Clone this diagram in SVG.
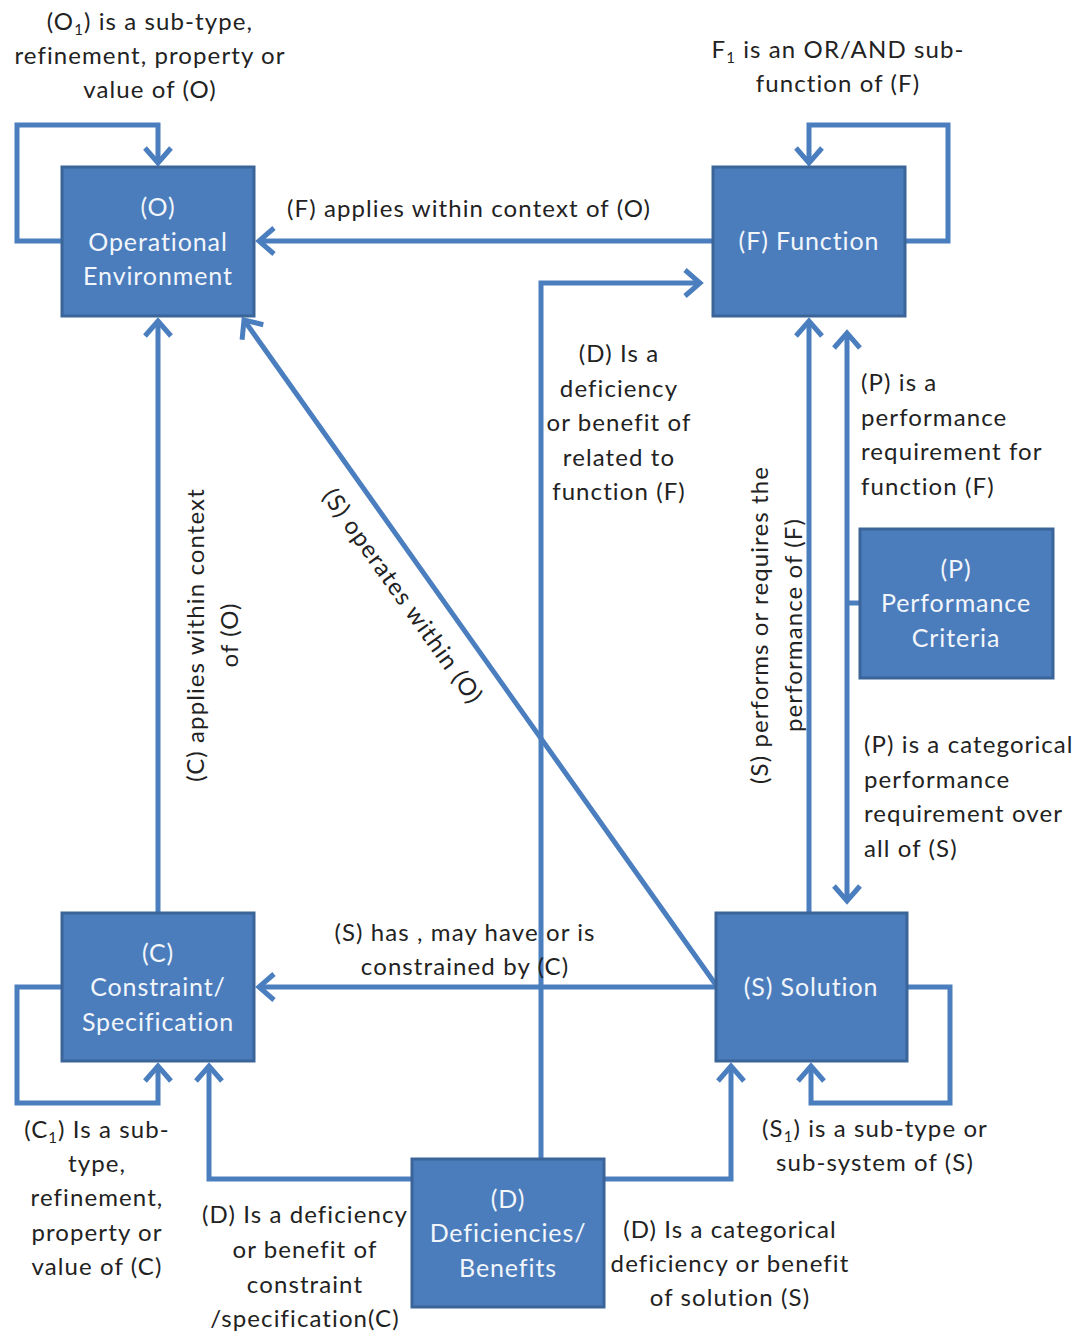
<svg xmlns="http://www.w3.org/2000/svg" width="1080" height="1335" viewBox="0 0 1080 1335">
<style>
.box{fill:#4b7dbd;stroke:#3b6598;stroke-width:3}
.bt{font-family:Lato,"Open Sans",sans-serif;font-size:25px;letter-spacing:0.9px;fill:#f2f6fb;text-anchor:middle}
.t{font-family:Lato,"Open Sans",sans-serif;font-size:24px;letter-spacing:1.1px;fill:#222}
.c{text-anchor:middle}
.ln{fill:none;stroke:#4a7ebe;stroke-width:5}
</style>
<defs>
<marker id="ar" viewBox="-20 -16 24 32" refX="0" refY="0" markerWidth="24" markerHeight="32" markerUnits="userSpaceOnUse" orient="auto-start-reverse">
<path d="M -15 -13 L 0 0 L -15 13" fill="none" stroke="#4a7ebe" stroke-width="5" stroke-linejoin="miter"/>
</marker>
</defs>
<rect width="1080" height="1335" fill="#ffffff"/>
<g id="connectors">
<path class="ln" d="M62 241 H17 V125 H158 V163" marker-end="url(#ar)"/>
<path class="ln" d="M905 241 H948 V125 H809 V163" marker-end="url(#ar)"/>
<path class="ln" d="M713 241 H259" marker-end="url(#ar)"/>
<path class="ln" d="M158 913 V321" marker-end="url(#ar)"/>
<path class="ln" d="M716 985 L244 320" marker-end="url(#ar)"/>
<path class="ln" d="M541 1159 V283 H700" marker-end="url(#ar)"/>
<path class="ln" d="M809 913 V321" marker-end="url(#ar)"/>
<path class="ln" d="M847 333 V901" marker-start="url(#ar)" marker-end="url(#ar)"/>
<path class="ln" d="M847 603 H860"/>
<path class="ln" d="M716 987 H259" marker-end="url(#ar)"/>
<path class="ln" d="M62 987 H17 V1103 H158 V1066" marker-end="url(#ar)"/>
<path class="ln" d="M907 987 H950 V1103 H811 V1066" marker-end="url(#ar)"/>
<path class="ln" d="M412 1179 H209 V1066" marker-end="url(#ar)"/>
<path class="ln" d="M604 1179 H731 V1066" marker-end="url(#ar)"/>
</g>
<g id="node-O">
<rect class="box" x="62" y="167" width="192" height="149"/>
<text class="bt" x="158" y="216">(O)</text>
<text class="bt" x="158" y="251">Operational</text>
<text class="bt" x="158" y="285">Environment</text>
</g>
<g id="node-F">
<rect class="box" x="713" y="167" width="192" height="149"/>
<text class="bt" x="809" y="250">(F) Function</text>
</g>
<g id="node-P">
<rect class="box" x="860" y="529" width="193" height="149"/>
<text class="bt" x="956" y="578">(P)</text>
<text class="bt" x="956" y="612">Performance</text>
<text class="bt" x="956" y="647">Criteria</text>
</g>
<g id="node-C">
<rect class="box" x="62" y="913" width="192" height="148"/>
<text class="bt" x="158" y="962">(C)</text>
<text class="bt" x="158" y="996">Constraint/</text>
<text class="bt" x="158" y="1031">Specification</text>
</g>
<g id="node-S">
<rect class="box" x="716" y="913" width="191" height="148"/>
<text class="bt" x="811" y="996">(S) Solution</text>
</g>
<g id="node-D">
<rect class="box" x="412" y="1159" width="192" height="148"/>
<text class="bt" x="508" y="1208">(D)</text>
<text class="bt" x="508" y="1242">Deficiencies/</text>
<text class="bt" x="508" y="1277">Benefits</text>
</g>
<g id="labels">
<text class="t c" x="150" y="30">(O<tspan font-size="15" dy="5">1</tspan><tspan dy="-5">) is a sub-type,</tspan></text>
<text class="t c" x="150" y="64">refinement, property or</text>
<text class="t c" x="150" y="98">value of (O)</text>
<text class="t c" x="838" y="58">F<tspan font-size="15" dy="5">1</tspan><tspan dy="-5">  is an OR/AND sub-</tspan></text>
<text class="t c" x="838" y="92">function of (F)</text>
<text class="t c" x="469" y="217">(F) applies within context of (O)</text>
<text class="t c" x="619" y="362">(D) Is a</text>
<text class="t c" x="619" y="397">deficiency</text>
<text class="t c" x="619" y="431">or benefit of</text>
<text class="t c" x="619" y="466">related to</text>
<text class="t c" x="619" y="500">function (F)</text>
<text class="t" x="861" y="391">(P) is a</text>
<text class="t" x="861" y="426">performance</text>
<text class="t" x="861" y="460">requirement for</text>
<text class="t" x="861" y="495">function (F)</text>
<text class="t" x="864" y="753">(P) is a categorical</text>
<text class="t" x="864" y="788">performance</text>
<text class="t" x="864" y="822">requirement over</text>
<text class="t" x="864" y="857">all of (S)</text>
<text class="t c" transform="translate(204,635) rotate(-90)">(C) applies within context</text>
<text class="t c" transform="translate(238,635) rotate(-90)">of (O)</text>
<text class="t c" transform="translate(396,601) rotate(54.6)">(S) operates within (O)</text>
<text class="t c" transform="translate(768,625) rotate(-90)">(S) performs or requires the</text>
<text class="t c" transform="translate(802,625) rotate(-90)">performance of (F)</text>
<text class="t c" x="465" y="941">(S) has , may have or is</text>
<text class="t c" x="465" y="975">constrained by (C)</text>
<text class="t c" x="97" y="1138">(C<tspan font-size="15" dy="5">1</tspan><tspan dy="-5">) Is a sub-</tspan></text>
<text class="t c" x="97" y="1172">type,</text>
<text class="t c" x="97" y="1206">refinement,</text>
<text class="t c" x="97" y="1241">property or</text>
<text class="t c" x="97" y="1275">value of (C)</text>
<text class="t c" x="875" y="1137">(S<tspan font-size="15" dy="5">1</tspan><tspan dy="-5">) is a sub-type or</tspan></text>
<text class="t c" x="875" y="1171">sub-system of (S)</text>
<text class="t c" x="305" y="1223">(D) Is a deficiency</text>
<text class="t c" x="305" y="1258">or benefit of</text>
<text class="t c" x="305" y="1293">constraint</text>
<text class="t c" x="305" y="1327">/specification(C)</text>
<text class="t c" x="730" y="1238">(D) Is a categorical</text>
<text class="t c" x="730" y="1272">deficiency or benefit</text>
<text class="t c" x="730" y="1306">of solution (S)</text>
</g>
</svg>
